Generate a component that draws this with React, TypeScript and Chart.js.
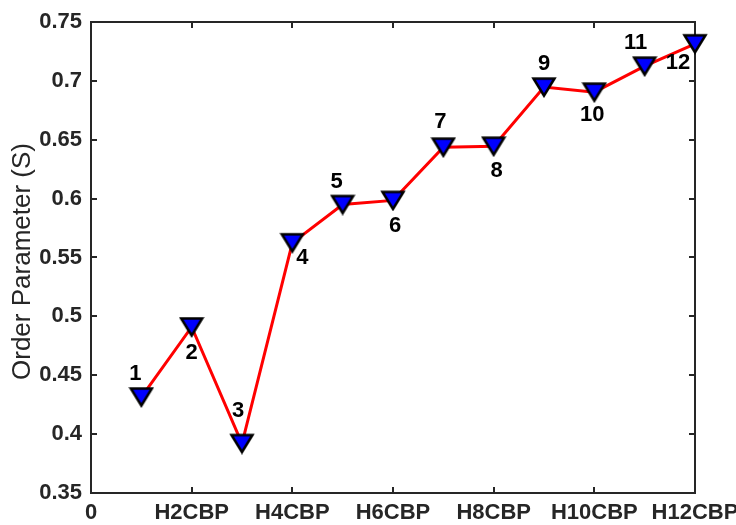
import React, { useEffect, useRef } from "react";
import { Chart, registerables } from "chart.js";

Chart.register(...registerables);

// ---- data ----
const pointIndex: number[] = [1, 2, 3, 4, 5, 6, 7, 8, 9, 10, 11, 12];
const orderParameter: number[] = [
  0.4315, 0.491, 0.392, 0.5625, 0.595, 0.5985, 0.6437, 0.6445, 0.6947, 0.6904, 0.7125, 0.7315,
];
const pointLabels: string[] = ["1", "2", "3", "4", "5", "6", "7", "8", "9", "10", "11", "12"];
const xTickValues: number[] = [0, 2, 4, 6, 8, 10, 12];
const xTickLabels: string[] = ["0", "H2CBP", "H4CBP", "H6CBP", "H8CBP", "H10CBP", "H12CBP"];
const yTickValues: number[] = [0.35, 0.4, 0.45, 0.5, 0.55, 0.6, 0.65, 0.7, 0.75];
const yTitle = "Order Parameter (S)";

// label placement relative to marker (pixels) — annotation styling
const labelOffsets: [number, number][] = [
  [-6, -23], [0, 26], [-4, -33], [10, 15], [-6, -23], [2, 26],
  [-3, -25], [3, 25], [0, -23], [-2, 23], [-9, -23], [-17, 19],
];

const FONT = "'Liberation Sans', Arial, Helvetica, sans-serif";
const AXIS = "#262626";

function makeMarker(): HTMLCanvasElement {
  const c = document.createElement("canvas");
  c.width = 26;
  c.height = 22;
  const g = c.getContext("2d")!;
  g.beginPath();
  g.moveTo(2.5, 2.5);
  g.lineTo(23.5, 2.5);
  g.lineTo(13, 19.5);
  g.closePath();
  g.fillStyle = "#0000ff";
  g.fill();
  g.lineWidth = 2.5;
  g.lineJoin = "miter";
  g.strokeStyle = "#000000";
  g.stroke();
  return c;
}

const framePlugin = {
  id: "frame",
  beforeDatasetsDraw(chart: any) {
    const { ctx, chartArea: a, scales } = chart;
    const xs = scales.x;
    const ys = scales.y;
    ctx.save();
    ctx.strokeStyle = AXIS;
    ctx.lineWidth = 2;
    ctx.strokeRect(a.left, a.top, a.right - a.left, a.bottom - a.top);
    const tl = 6;
    ctx.beginPath();
    xTickValues.forEach((v) => {
      const px = Math.round(xs.getPixelForValue(v));
      ctx.moveTo(px, a.bottom);
      ctx.lineTo(px, a.bottom - tl);
      ctx.moveTo(px, a.top);
      ctx.lineTo(px, a.top + tl);
    });
    yTickValues.forEach((v) => {
      const py = Math.round(ys.getPixelForValue(v));
      ctx.moveTo(a.left, py);
      ctx.lineTo(a.left + tl, py);
      ctx.moveTo(a.right, py);
      ctx.lineTo(a.right - tl, py);
    });
    ctx.stroke();
    // y title
    ctx.fillStyle = AXIS;
    ctx.font = `26px ${FONT}`;
    ctx.textAlign = "center";
    ctx.textBaseline = "middle";
    ctx.translate(23, (a.top + a.bottom) / 2 + 4);
    ctx.rotate(-Math.PI / 2);
    ctx.fillText(yTitle, 0, 0);
    ctx.restore();
  },
};

const labelPlugin = {
  id: "pointLabels",
  afterDatasetsDraw(chart: any) {
    const { ctx } = chart;
    const meta = chart.getDatasetMeta(0);
    ctx.save();
    ctx.fillStyle = "#000000";
    ctx.font = `bold 22px ${FONT}`;
    ctx.textAlign = "center";
    ctx.textBaseline = "middle";
    meta.data.forEach((pt: any, i: number) => {
      const [dx, dy] = labelOffsets[i];
      ctx.fillText(pointLabels[i], pt.x + dx, pt.y + dy);
    });
    ctx.restore();
  },
};

export default function App() {
  const ref = useRef<HTMLCanvasElement | null>(null);
  useEffect(() => {
    if (!ref.current) return;
    const marker = makeMarker();
    const chart = new Chart(ref.current, {
      type: "line",
      data: {
        datasets: [
          {
            data: pointIndex.map((x, i) => ({ x, y: orderParameter[i] })),
            borderColor: "#ff0000",
            borderWidth: 3,
            tension: 0,
            pointStyle: marker as any,
            pointRadius: 10,
            clip: false as any,
          },
        ],
      },
      options: {
        animation: false,
        responsive: false,
        events: [],
        layout: { padding: { top: 22, right: 41, left: 0, bottom: 0 } },
        plugins: { legend: { display: false }, tooltip: { enabled: false } },
        scales: {
          x: {
            type: "linear",
            min: 0,
            max: 12,
            afterBuildTicks: (s: any) => {
              s.ticks = xTickValues.map((v) => ({ value: v }));
            },
            afterFit: (s: any) => {
              s.height = 32;
              s.paddingLeft = 0;
              s.paddingRight = 0;
            },
            grid: { display: false, drawTicks: false },
            border: { display: false },
            ticks: {
              autoSkip: false,
              maxRotation: 0,
              padding: 7,
              color: AXIS,
              font: { family: FONT, size: 22, weight: "bold" },
              callback: (v: any) => {
                const i = xTickValues.indexOf(Number(v));
                return i >= 0 ? xTickLabels[i] : "";
              },
            },
          },
          y: {
            type: "linear",
            min: 0.35,
            max: 0.75,
            afterBuildTicks: (s: any) => {
              s.ticks = yTickValues.map((v) => ({ value: v }));
            },
            afterFit: (s: any) => {
              s.width = 91;
              s.paddingTop = 0;
              s.paddingBottom = 0;
            },
            grid: { display: false, drawTicks: false },
            border: { display: false },
            ticks: {
              padding: 9,
              color: AXIS,
              font: { family: FONT, size: 22, weight: "bold" },
              callback: (v: any) => String(parseFloat(Number(v).toFixed(2))),
            },
          },
        },
      },
      plugins: [framePlugin, labelPlugin],
    });
    return () => chart.destroy();
  }, []);
  return (
    <div style={{ position: "fixed", left: 0, top: 0, width: 736, height: 525, background: "#fff" }}>
      <canvas ref={ref} width={736} height={525} style={{ width: 736, height: 525 }} />
    </div>
  );
}
